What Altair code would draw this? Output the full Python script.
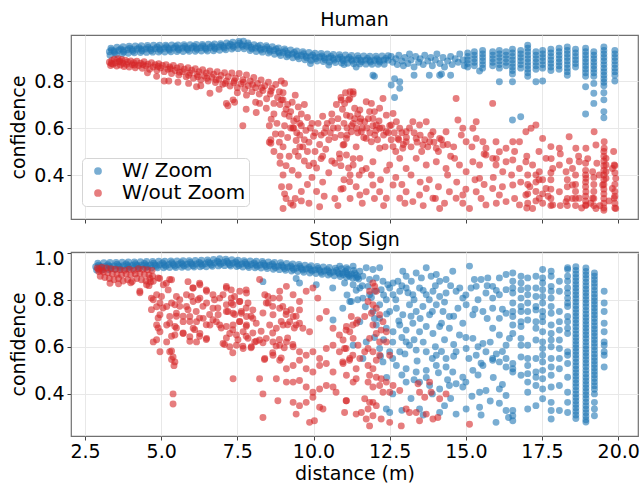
import altair as alt
import pandas as pd

SERIES = ["W/ Zoom", "W/out Zoom"]
COLORS = ["#1f77b4", "#d62728"]
X_TICKS = [2.5, 5.0, 7.5, 10.0, 12.5, 15.0, 17.5, 20.0]
Y_TICKS_TOP = [0.4, 0.6, 0.8]
Y_TICKS_BOTTOM = [0.4, 0.6, 0.8, 1.0]
PANEL_TITLES = ["Human", "Stop Sign"]

# ---------------- Human, W/ Zoom ----------------
human_zoom_band = [
    (3.30,.925),(3.45,.928),(3.60,.930),(3.75,.931),(3.90,.933),(4.05,.934),(4.20,.935),(4.35,.936),(4.50,.936),(4.65,.937),
    (4.80,.938),(4.95,.938),(5.10,.939),(5.25,.939),(5.40,.940),(5.55,.940),(5.70,.940),(5.85,.941),(6.00,.941),(6.15,.942),
    (6.30,.942),(6.45,.942),(6.60,.943),(6.75,.944),(6.90,.945),(7.05,.947),(7.20,.949),(7.35,.951),(7.50,.953),(7.65,.955),
    (7.80,.948),(7.95,.944),(8.10,.940),(8.25,.939),(8.40,.936),(8.55,.934),(8.70,.930),(8.85,.926),(9.00,.922),(9.15,.918),
    (9.30,.915),(9.45,.912),(9.60,.909),(9.75,.906),(9.90,.904),(10.05,.902),(10.20,.901),(10.35,.899),(10.50,.898),(10.65,.896),
    (10.80,.895),(10.95,.894),(11.10,.893),(11.25,.892),(11.40,.890),(11.55,.889),(11.70,.889),(11.85,.888),(12.00,.888),(12.15,.888),
    (12.30,.889),(12.45,.889),
    (3.35,.940),(3.55,.944),(3.75,.946),(3.95,.948),(4.15,.949),(4.35,.950),(4.55,.951),(4.75,.952),(4.95,.952),(5.15,.953),
    (5.35,.954),(5.55,.954),(5.75,.955),(5.95,.955),(6.15,.956),(6.35,.956),(6.55,.957),(6.75,.958),(6.95,.959),(7.15,.962),
    (7.35,.965),(7.55,.968),(7.70,.970),(7.85,.962),(8.05,.955),(8.25,.953),(8.45,.950),(8.65,.946),(8.85,.941),(9.05,.937),
    (9.25,.932),(9.45,.928),(9.65,.925),(9.85,.922),(10.05,.919),(10.25,.917),(10.45,.915),(10.65,.913),(10.85,.912),(11.05,.911),
    (11.25,.909),(11.45,.908),(11.65,.907),(11.85,.906),(12.05,.906),(12.25,.907),(12.45,.908),
    (3.32,.910),(3.52,.913),(3.72,.916),(3.92,.918),(4.12,.920),(4.32,.921),(4.52,.922),(4.72,.923),(4.92,.924),(5.12,.924),
    (5.32,.925),(5.52,.926),(5.72,.926),(5.92,.927),(6.12,.927),(6.32,.928),(6.52,.928),(6.72,.929),(6.92,.931),(7.12,.933),
    (7.32,.936),(7.52,.938),(7.72,.937),(7.92,.930),(8.12,.926),(8.32,.923),(8.52,.919),(8.72,.914),(8.92,.909),(9.12,.903),
    (9.32,.899),(9.52,.895),(9.72,.891),(9.92,.888),(10.12,.885),(10.32,.883),(10.52,.881),(10.72,.879),(10.92,.877),(11.12,.876),
    (11.32,.874),(11.52,.873),(11.72,.872),(11.92,.871),(12.12,.871),(12.32,.871),
    (3.37,.932),(3.67,.937),(3.97,.940),(4.27,.942),(4.57,.943),(4.87,.945),(5.17,.946),(5.47,.947),(5.77,.947),(6.07,.948),
    (6.37,.949),(6.67,.950),(6.97,.952),(7.27,.957),(7.57,.961),(7.87,.954),(8.17,.947),(8.47,.943),(8.77,.937),(9.07,.929),
    (9.37,.922),(9.67,.916),(9.97,.911),(10.27,.907),(10.57,.905),(10.87,.902),(11.17,.900),(11.47,.897),(11.77,.896),(12.07,.895),
    (12.37,.896),
    (3.47,.921),(3.77,.924),(4.07,.927),(4.37,.929),(4.67,.930),(4.97,.931),(5.27,.932),(5.57,.933),(5.87,.934),(6.17,.935),
    (6.47,.935),(6.77,.937),(7.07,.940),(7.37,.944),(7.67,.948),(7.97,.937),(8.27,.932),(8.57,.927),(8.87,.919),(9.17,.911),
    (9.47,.905),(9.77,.899),(10.07,.895),(10.37,.892),(10.67,.889),(10.97,.887),(11.27,.885),(11.57,.882),(11.87,.881),(12.17,.881),
]
human_zoom_scatter = [
    (10.50,.868),(11.95,.825),(12.00,.820),(12.55,.783),(12.66,.810),(12.83,.797),(12.83,.769),(12.66,.730),(13.30,.825),
    (13.80,.825),(14.14,.825),(14.50,.825),(14.20,.830),(15.45,.843),(16.10,.797),(16.53,.797),(16.53,.634),(16.80,.648),
    (17.30,.797),(17.52,.800),(18.93,.776),(18.93,.660),(19.20,.790),(19.20,.748),(19.20,.705),(19.53,.750),(19.53,.720),
    (19.53,.670),(19.53,.644),(19.89,.800),(11.40,.860),(9.90,.875),(11.00,.870),
    (12.55,.905),(12.60,.880),(12.70,.895),(12.75,.870),(12.80,.910),(12.90,.885),(12.95,.865),(13.00,.900),(13.10,.875),
    (13.15,.915),(13.20,.890),(13.30,.860),(13.35,.905),(13.45,.880),(13.50,.895),(13.60,.870),(13.65,.910),(13.75,.885),
    (13.85,.900),(13.90,.865),(14.00,.890),(14.05,.915),(14.15,.875),(14.25,.900),(14.30,.860),(14.40,.885),(14.50,.905),
    (14.55,.870),(14.65,.895),(14.75,.880),(14.80,.915),(14.90,.890),(14.95,.865),
]
human_zoom_columns = [
    (15.06, [.920,.905,.890,.875,.860]),
    (15.28, [.925,.910,.895,.880,.865]),
    (15.55, [.930,.915,.900,.885,.870,.855]),
    (15.88, [.925,.910,.895,.880,.865]),
    (16.10, [.930,.915,.900,.885,.870,.855]),
    (16.32, [.925,.910,.895,.880,.865]),
    (16.53, [.935,.920,.905,.890,.875,.860,.845,.830]),
    (16.80, [.930,.915,.900,.885,.870,.855]),
    (17.03, [.953,.940,.925,.910,.895,.880,.865,.850,.835,.820]),
    (17.30, [.925,.910,.895,.880,.865,.850]),
    (17.52, [.930,.915,.900,.885,.870,.855]),
    (17.79, [.935,.920,.905,.890,.875,.860,.845]),
    (18.06, [.940,.925,.910,.895,.880,.865,.850]),
    (18.33, [.945,.930,.915,.900,.885,.870,.855,.840,.825]),
    (18.60, [.935,.920,.905,.890,.875,.860]),
    (18.93, [.940,.925,.910,.895,.880,.865,.850,.835,.820]),
    (19.20, [.925,.910,.895,.880,.865,.850,.835,.820]),
    (19.53, [.945,.930,.915,.900,.885,.870,.855,.840,.825,.810,.795,.780]),
    (19.89, [.930,.915,.900,.885,.870,.855,.840,.825]),
]

# ---------------- Human, W/out Zoom ----------------
human_nozoom_band = [
    (3.30,.880),(3.34,.866),(3.38,.888),(3.42,.872),(3.46,.893),(3.50,.878),(3.54,.864),(3.58,.895),(3.62,.882),(3.66,.868),
    (3.70,.892),(3.74,.876),(3.78,.862),(3.82,.889),(3.86,.871),(3.90,.881),(3.95,.860),(4.00,.886),(4.05,.870),(4.10,.878),
    (4.15,.857),(4.20,.884),(4.26,.866),(4.32,.876),(4.38,.854),(4.44,.882),(4.50,.864),(4.56,.872),(4.62,.850),(4.68,.878),
    (4.74,.860),(4.80,.870),(4.86,.846),(4.92,.874),(4.98,.856),(5.04,.866),(5.10,.840),(5.16,.870),(5.22,.850),(5.28,.860),
    (5.34,.832),(5.40,.866),(5.46,.845),(5.52,.856),(5.58,.826),(5.64,.862),(5.70,.840),(5.76,.850),(5.82,.818),(5.88,.857),
    (5.94,.834),(6.00,.846),(6.06,.812),(6.12,.852),(6.18,.828),(6.24,.840),(6.30,.805),(6.36,.848),(6.42,.822),(6.48,.834),
    (6.54,.800),(6.60,.843),(6.66,.816),(6.72,.829),(6.78,.794),(6.84,.840),(6.90,.808),(6.96,.824),(7.02,.786),(7.08,.836),
    (7.14,.800),(7.20,.818),(7.26,.779),(7.32,.834),(7.38,.793),(7.44,.812),(7.50,.772),(7.56,.832),(7.62,.788),(7.68,.806),
    (7.74,.766),(7.80,.826),(7.86,.780),(7.92,.800),(7.98,.755),(8.04,.815),(8.10,.772),(8.16,.790),(8.22,.745),(8.28,.805),
    (8.34,.760),(8.40,.780),(8.46,.725),(8.52,.795),(8.58,.745),(8.64,.770),(8.70,.705),(8.76,.785),(8.82,.730),(8.88,.755),
    (3.36,.875),(3.64,.885),(4.12,.868),(4.40,.870),(4.90,.862),(5.30,.852),(5.60,.838),(5.90,.825),(6.20,.818),(6.50,.812),
    (6.80,.805),(7.10,.790),(7.40,.800),(7.70,.795),(8.00,.785),(8.30,.772),(8.60,.758),(9.00,.750),(9.05,.790),(8.95,.720),
]
human_nozoom_scatter = [
    (4.55,.835),(4.85,.820),(5.10,.800),(5.25,.800),(5.55,.795),(5.90,.790),(6.16,.776),(6.60,.748),(6.30,.780),(6.90,.765),
    (7.14,.705),(7.36,.720),(7.19,.695),(7.41,.710),(7.68,.610),(7.79,.680),(8.12,.666),(8.23,.705),(8.45,.684),(8.61,.638),
    (7.50,.750),(7.80,.740),(8.10,.710),(8.70,.660),(8.80,.620),(8.90,.700),(9.00,.720),(9.10,.680),(9.20,.650),(9.30,.710),
    (9.40,.740),(9.50,.690),(8.94,.800),(9.32,.600),(9.43,.547),(8.94,.575),(8.88,.540),(8.55,.540),
    (8.75,.575),(8.60,.535),(8.55,.610),(9.05,.610),(9.15,.560),(9.25,.600),(9.35,.630),(9.45,.580),(9.55,.620),(9.60,.660),
    (9.70,.700),(9.80,.645),(9.90,.600),(10.00,.565),(9.70,.550),(9.55,.520),(9.40,.500),(9.20,.480),(9.00,.520),(8.90,.480),
    (8.70,.500),(8.60,.550),(9.10,.440),(9.30,.420),(9.50,.400),(9.70,.460),(9.85,.440),(10.05,.500),(10.20,.530),(10.35,.580),
    (10.45,.620),(10.60,.660),(10.75,.700),(10.90,.730),(11.05,.750),(11.20,.755),(11.30,.745),(11.15,.720),(10.95,.680),(10.80,.640),
    (10.65,.600),(10.50,.550),(10.40,.510),(10.25,.470),(10.10,.430),(9.95,.390),(9.80,.360),(9.60,.330),(9.40,.300),(9.20,.350),
    (9.00,.400),(9.00,.258),(9.10,.300),(9.33,.272),(10.20,.265),(9.85,.280),(10.10,.330),(10.30,.370),(10.50,.410),(10.70,.450),
    (10.85,.490),(11.00,.530),(11.10,.570),(11.25,.610),(11.35,.640),(11.45,.580),(11.40,.520),(11.30,.470),(11.15,.430),(11.00,.380),
    (10.90,.340),(10.70,.300),(11.20,.300),(11.40,.350),(11.50,.400),
    (9.05,.660),(9.15,.700),(9.25,.670),(9.35,.600),(9.45,.640),(9.55,.570),(9.60,.610),(9.65,.520),(9.75,.590),(9.85,.540),
    (9.95,.620),(10.05,.580),(10.15,.620),(10.25,.570),(10.30,.650),(10.40,.600),(10.55,.580),(10.60,.630),(10.70,.560),(10.80,.600),
    (10.90,.570),(11.00,.620),(11.10,.600),(11.20,.650),(11.30,.620),(11.45,.660),(11.55,.640),(11.60,.600),(11.65,.560),(11.75,.600),
    (11.80,.640),(11.85,.580),(11.95,.610),(12.00,.670),(12.05,.590),(12.10,.550),(12.15,.630),(12.25,.600),(12.30,.570),(12.35,.520),
    (12.45,.580),(12.50,.610),(12.55,.550),(12.65,.580),(12.70,.500),(12.80,.550),(12.90,.580),(12.95,.530),(13.05,.560),(13.15,.600),
    (13.20,.520),(13.30,.580),(13.40,.540),(13.50,.570),(13.55,.500),(13.65,.550),(13.75,.520),(13.85,.570),(13.95,.540),(14.10,.500),
    (14.20,.550),(14.40,.530),(14.50,.480),(14.60,.520),
    (9.50,.480),(9.80,.500),(10.00,.450),(10.30,.480),(10.60,.460),(10.90,.440),(11.20,.400),(11.60,.420),(11.90,.400),(12.20,.380),
    (12.40,.420),(12.70,.390),(12.90,.360),(13.20,.400),(13.50,.370),(13.80,.380),(14.10,.350),(14.40,.400),(14.70,.370),(15.00,.340),
    (15.30,.380),(15.60,.360),(15.90,.390),(16.20,.350),(16.50,.400),(16.80,.370),(17.10,.350),(17.40,.380),
    (8.90,.450),(8.95,.350),(9.05,.320),(9.25,.280),(9.60,.290),(10.35,.310),(10.80,.270),(11.60,.280),(12.00,.300),(12.30,.270),
    (13.00,.280),(13.60,.270),(14.00,.300),(14.30,.280),(14.90,.280),(15.50,.300),(16.00,.280),(16.60,.300),(17.00,.260),(17.70,.310),
    (18.10,.270),(18.50,.300),(18.80,.260),(19.10,.280),(19.40,.270),(19.70,.290),
    (16.60,.500),(17.00,.480),(17.40,.500),(17.80,.470),(18.10,.490),(18.40,.460),(18.70,.480),(19.00,.470),(19.30,.450),(19.85,.500),
    (15.20,.520),(15.60,.490),(16.00,.470),
    (11.30,.755),(11.19,.726),(11.02,.705),(10.91,.719),(11.08,.655),(11.35,.684),(11.52,.677),(11.73,.712),(11.90,.705),(11.84,.670),
    (11.95,.641),(12.17,.684),(12.28,.726),(12.39,.655),(12.61,.662),(12.72,.627),(12.55,.613),(12.39,.584),(12.17,.599),(12.01,.570),
    (11.90,.542),(11.73,.556),(11.57,.584),(11.41,.599),(11.24,.584),(11.08,.556),(10.97,.528),(11.68,.627),(11.52,.627),(12.06,.613),
    (12.83,.599),(13.04,.584),(13.26,.627),(13.48,.613),(13.70,.627),(13.92,.584),(14.14,.556),(14.35,.584),(13.04,.542),(12.77,.556),
    (12.61,.521),(12.93,.514),(13.37,.556),(13.59,.528),(13.81,.542),(14.03,.514),(14.25,.528),(14.68,.726),(14.74,.634),(14.90,.599),
    (14.85,.570),(15.01,.542),(15.23,.599),(15.34,.627),(15.56,.542),(15.34,.556),(15.66,.514),(15.88,.705),(15.99,.542),(16.10,.499),
    (16.32,.514),(16.54,.542),(16.76,.542),(16.97,.584),(17.14,.599),(17.30,.613),(17.52,.556),(17.79,.521),(18.07,.514),(18.39,.563),
    (18.61,.514),(18.94,.514),(19.21,.584),(19.27,.528),(19.54,.542),(19.54,.514),(19.87,.443),
    (10.86,.471),(11.08,.485),(11.30,.443),(11.52,.471),(11.73,.428),(11.95,.457),(12.17,.514),(12.50,.443),(12.83,.471),(13.04,.428),
    (13.37,.471),(13.70,.443),(14.03,.457),(14.35,.428),(14.63,.471),(14.79,.443),(15.01,.414),(15.23,.457),(15.45,.443),(15.66,.485),
    (15.88,.471),(15.99,.443),(16.21,.414),(16.32,.457),(16.54,.464),(16.76,.428),(16.97,.457),(17.19,.443),(17.41,.414),(17.63,.471),
    (17.85,.428),(18.07,.443),(18.29,.414),(18.50,.428),(18.72,.457),(18.94,.386),(19.16,.414),(19.38,.400),(19.60,.471),(19.60,.443),
    (19.60,.414),(19.60,.386),(19.81,.428),(19.92,.386),
    (10.97,.343),(11.19,.372),(11.52,.315),(11.73,.329),(11.95,.358),(12.17,.329),(12.39,.301),(12.61,.358),(12.83,.301),(13.04,.329),
    (13.26,.287),(13.48,.315),(13.70,.343),(13.92,.301),(14.14,.258),(14.46,.329),(14.68,.301),(14.90,.315),(15.12,.258),(15.34,.329),
    (15.45,.386),(15.66,.273),(15.88,.343),(16.10,.315),(16.32,.287),(16.54,.358),(16.76,.273),(16.97,.315),(17.19,.258),(17.41,.301),
    (17.63,.343),(17.85,.273),(18.07,.329),(18.29,.287),(18.50,.358),(18.72,.301),(18.94,.329),(18.94,.273),(19.16,.301),(19.27,.258),
    (19.49,.358),(19.81,.343),(19.87,.301),(19.92,.258),
]
human_nozoom_columns = [
    (17.03, [.400,.360,.320,.280]),
    (17.30, [.400,.370,.330,.290]),
    (17.52, [.380,.320,.280]),
    (17.79, [.410,.380,.340,.300,.270]),
    (18.33, [.380,.350,.300,.270]),
    (18.60, [.400,.360,.330,.300,.270]),
    (18.93, [.450,.420,.400,.370,.350,.310,.290,.270]),
    (19.20, [.390,.360,.330,.300,.270]),
    (19.53, [.500,.480,.460,.440,.420,.400,.380,.360,.340,.320,.300,.280,.260,.250]),
    (19.89, [.440,.410,.360,.330,.310,.280,.260]),
]

# ---------------- Stop Sign, W/ Zoom ----------------
stop_zoom_band = [
    (2.85,.940),(3.00,.941),(3.15,.942),(3.30,.943),(3.45,.944),(3.60,.945),(3.75,.945),(3.90,.946),(4.05,.946),(4.20,.947),
    (4.35,.947),(4.50,.948),(4.65,.948),(4.80,.948),(4.95,.949),(5.10,.949),(5.25,.950),(5.40,.950),(5.55,.950),(5.70,.951),
    (5.85,.951),(6.00,.952),(6.15,.952),(6.30,.953),(6.45,.953),(6.60,.955),(6.75,.956),(6.90,.958),(7.05,.958),(7.20,.956),
    (7.35,.955),(7.50,.953),(7.65,.952),(7.80,.951),(7.95,.950),(8.10,.949),(8.25,.948),(8.40,.948),(8.55,.946),(8.70,.944),
    (8.85,.942),(9.00,.940),(9.15,.938),(9.30,.936),(9.45,.935),(9.60,.933),(9.75,.931),(9.90,.929),(10.05,.927),(10.20,.925),
    (10.35,.922),(10.50,.920),(10.65,.918),(10.80,.916),(10.95,.915),(11.10,.912),(11.25,.909),(11.40,.905),
    (2.92,.955),(3.12,.957),(3.32,.958),(3.52,.959),(3.72,.960),(3.92,.961),(4.12,.961),(4.32,.962),(4.52,.963),(4.72,.963),
    (4.92,.964),(5.12,.964),(5.32,.965),(5.52,.965),(5.72,.966),(5.92,.966),(6.12,.967),(6.32,.968),(6.52,.969),(6.72,.971),
    (6.92,.974),(7.12,.972),(7.32,.970),(7.52,.968),(7.72,.966),(7.92,.965),(8.12,.964),(8.32,.963),(8.52,.961),(8.72,.959),
    (8.92,.957),(9.12,.954),(9.32,.952),(9.52,.950),(9.72,.947),(9.92,.945),(10.12,.942),(10.32,.939),(10.52,.937),(10.72,.934),
    (10.92,.932),(11.12,.929),(11.32,.925),
    (2.88,.926),(3.08,.928),(3.28,.929),(3.48,.930),(3.68,.931),(3.88,.932),(4.08,.933),(4.28,.934),(4.48,.935),(4.68,.935),
    (4.88,.936),(5.08,.936),(5.28,.937),(5.48,.937),(5.68,.938),(5.88,.938),(6.08,.939),(6.28,.940),(6.48,.940),(6.68,.942),
    (6.88,.944),(7.08,.945),(7.28,.943),(7.48,.941),(7.68,.939),(7.88,.937),(8.08,.936),(8.28,.935),(8.48,.933),(8.68,.930),
    (8.88,.928),(9.08,.925),(9.28,.922),(9.48,.920),(9.68,.917),(9.88,.914),(10.08,.912),(10.28,.908),(10.48,.905),(10.68,.902),
    (10.88,.899),(11.08,.896),(11.28,.892),(11.48,.888),
    (2.95,.947),(3.25,.949),(3.55,.951),(3.85,.952),(4.15,.953),(4.45,.954),(4.75,.955),(5.05,.956),(5.35,.957),(5.65,.957),
    (5.95,.958),(6.25,.959),(6.55,.961),(6.85,.964),(7.15,.964),(7.45,.961),(7.75,.958),(8.05,.956),(8.35,.955),(8.65,.952),
    (8.95,.948),(9.25,.944),(9.55,.941),(9.85,.937),(10.15,.933),(10.45,.928),(10.75,.924),(11.05,.920),(11.35,.914),
    (3.05,.934),(3.35,.936),(3.65,.938),(3.95,.939),(4.25,.940),(4.55,.941),(4.85,.942),(5.15,.942),(5.45,.943),(5.75,.944),
    (6.05,.945),(6.35,.946),(6.65,.948),(6.95,.951),(7.25,.949),(7.55,.946),(7.85,.944),(8.15,.942),(8.45,.941),(8.75,.937),
    (9.05,.933),(9.35,.929),(9.65,.926),(9.95,.922),(10.25,.917),(10.55,.913),(10.85,.909),(11.15,.905),(11.45,.898),
]
stop_zoom_scatter = [
    (9.54,.871),(10.09,.864),(10.63,.850),(10.96,.764),(10.64,.714),(11.24,.793),(11.45,.800),(8.34,.877),(9.43,.890),
    (10.86,.943),(11.08,.936),(11.30,.943),(11.52,.921),(11.73,.936),(11.95,.929),(12.17,.936),(10.97,.907),(11.19,.900),(11.41,.893),
    (11.62,.900),(11.84,.886),(12.06,.893),(12.28,.879),(11.02,.871),(11.30,.864),(11.52,.850),(11.79,.857),(12.01,.836),(12.22,.843),
    (12.44,.864),(12.61,.871),(12.77,.879),(12.93,.921),(13.04,.900),(13.21,.879),(13.37,.914),(13.54,.893),(13.70,.936),(13.86,.900),
    (14.03,.907),(14.14,.879),(14.35,.886),(14.57,.921),(15.12,.943),(15.28,.886),(15.50,.886),(15.72,.893),(15.88,.857),(16.10,.893),
    (16.32,.907),
    (11.19,.793),(11.62,.807),(11.84,.821),(12.17,.779),(12.39,.800),(12.61,.821),(12.83,.836),(13.04,.850),(13.26,.821),(13.48,.850),
    (13.70,.821),(13.92,.836),(14.14,.814),(14.35,.829),(14.68,.836),(14.90,.807),(15.17,.850),(15.34,.857),(15.66,.829),(15.88,.807),
    (16.10,.821),(16.32,.843),
    (11.95,.750),(12.17,.721),(12.50,.750),(12.72,.764),(12.93,.736),(13.15,.779),(13.37,.750),(13.59,.771),(13.81,.736),(14.03,.779),
    (14.25,.750),(14.46,.729),(14.74,.764),(15.01,.779),(15.23,.736),(15.56,.750),(15.88,.764),(16.10,.721),(16.32,.743),
    (11.52,.707),(12.06,.693),(12.39,.679),(12.61,.664),(12.83,.693),(13.04,.671),(13.26,.700),(13.48,.664),(13.70,.686),(13.92,.657),
    (14.14,.686),(14.46,.679),(14.79,.650),(15.23,.636),(15.56,.614),(15.88,.679),(16.10,.650),(16.32,.607),(16.43,.636),
    (11.30,.607),(11.73,.621),(12.17,.593),(12.50,.579),(12.83,.579),(13.04,.621),(13.15,.607),(13.37,.586),(13.70,.579),(14.03,.564),
    (14.35,.550),(14.68,.579),(15.01,.593),(15.34,.564),(15.66,.579),(15.88,.550),(16.10,.536),(16.32,.550),
    (11.62,.550),(12.28,.536),(12.72,.521),(13.04,.507),(13.37,.493),(13.70,.500),(14.03,.521),(14.35,.514),(14.57,.493),(14.90,.471),
    (15.23,.500),(15.56,.521),(15.88,.543),(16.32,.514),
    (13.04,.450),(13.48,.450),(13.81,.436),(14.14,.421),(14.46,.436),(14.68,.443),(14.90,.429),(15.45,.407),(15.66,.414),(16.10,.421),
    (16.32,.393),
    (12.39,.336),(12.50,.321),(13.48,.336),(14.14,.321),(14.68,.314),(15.01,.336),(15.45,.343),(15.99,.279),(16.32,.329),
    (11.10,.820),(11.40,.840),(11.60,.860),(11.90,.810),(12.30,.820),(12.50,.850),(12.70,.800),(12.90,.860),(13.10,.830),(13.30,.800),
    (13.60,.840),(13.80,.800),(14.00,.860),(14.30,.790),(14.50,.860),(14.80,.850),(15.00,.820),(15.40,.800),(15.70,.860),(16.00,.840),
    (11.70,.770),(12.00,.720),(12.40,.740),(12.80,.710),(13.20,.730),(13.50,.720),(13.90,.750),(14.20,.700),(14.60,.730),(14.90,.700),
    (15.30,.760),(15.70,.720),(16.20,.760),
    (12.00,.640),(12.30,.630),(12.60,.620),(12.90,.640),(13.30,.630),(13.60,.620),(14.00,.600),(14.30,.630),(14.60,.610),(15.00,.640),
    (15.40,.600),(15.80,.620),(16.20,.580),
    (12.20,.560),(12.60,.550),(13.00,.570),(13.40,.540),(13.90,.550),(14.20,.580),(14.60,.560),(15.10,.550),(15.50,.530),(16.00,.570),
    (12.40,.470),(12.90,.480),(13.30,.460),(13.70,.470),(14.10,.490),(14.40,.460),(15.00,.450),(15.40,.480),(15.90,.470),(16.20,.440),
    (12.60,.400),(13.20,.380),(13.90,.400),(14.50,.380),(15.20,.390),(15.80,.370),(16.10,.360),(12.90,.330),(13.60,.310),(14.30,.350),
    (15.50,.310),(16.40,.300),
]
stop_zoom_columns = [
    (16.54, [.914,.879,.850,.829,.786,.750,.729,.693,.657,.529,.507,.493,.329,.307,.286]),
    (16.81, [.900,.871,.843,.807,.771,.750,.707,.686,.636,.607,.557,.479]),
    (17.03, [.893,.850,.821,.786,.750,.714,.607,.550,.521,.486,.450,.407,.336]),
    (17.30, [.900,.850,.814,.771,.757,.707,.679,.629,.550,.493,.471,.436,.350]),
    (17.52, [.929,.893,.871,.843,.814,.786,.750,.729,.707,.664,.621,.593,.564,.536,.500,.464,.421,.379]),
    (17.80, [.921,.900,.857,.836,.807,.771,.743,.693,.657,.629,.600,.550,.514,.479,.429,.364,.329,.293]),
    (18.07, [.879,.836,.750,.707,.671,.629,.593,.550,.507,.436,.329]),
    (18.34, [.936,.929,.900,.879,.850,.829,.807,.786,.771,.729,.707,.679,.657,.579,.564,.529,.471,.407,.364,.321]),
    (18.61, [.940,.925,.910,.895,.880,.865,.850,.835,.820,.805,.790,.775,.760,.745,.730,.715,.700,.685,.670,.655,.640,.625,
             .610,.595,.580,.565,.550,.535,.520,.505,.490,.475,.460,.445,.430,.415,.400,.385,.370,.355,.340,.325,.310,.295]),
    (18.94, [.935,.920,.905,.890,.875,.860,.845,.830,.815,.800,.785,.770,.755,.740,.725,.710,.695,.680,.665,.650,.635,.620,
             .605,.590,.575,.560,.545,.530,.515,.500,.485,.470,.455,.440,.425,.410,.395,.380,.365,.350,.335,.320,.305,.290,.280]),
    (19.22, [.914,.900,.885,.870,.855,.840,.825,.810,.795,.780,.765,.750,.735,.720,.705,.690,.675,.660,.645,.630,.615,.600,
             .585,.570,.555,.540,.525,.510,.495,.480,.465,.450,.435,.420,.400,.364,.336,.307]),
    (19.54, [.836,.786,.750,.700,.664,.621,.607,.579,.564,.514]),
]

# ---------------- Stop Sign, W/out Zoom ----------------
stop_nozoom_band = [
    (2.90,.935),(3.05,.938),(3.20,.935),(3.35,.932),(3.50,.930),(3.65,.928),(3.80,.925),(3.95,.930),(4.10,.925),(4.25,.932),
    (4.40,.930),(4.55,.928),(4.70,.925),
    (2.95,.920),(3.10,.918),(3.25,.915),(3.40,.910),(3.55,.908),(3.70,.905),(3.85,.910),(4.00,.905),(4.15,.910),(4.30,.912),
    (4.45,.908),(4.60,.905),(4.72,.900),
    (3.00,.900),(3.15,.895),(3.30,.890),(3.45,.885),(3.60,.890),(3.75,.880),(3.90,.885),(4.05,.878),(4.20,.890),(4.35,.885),
    (4.50,.880),(4.65,.875),
    (3.32,.870),(3.60,.868),(4.00,.872),(2.95,.930),(3.05,.925),(4.30,.830),(4.60,.860),
]
stop_nozoom_scatter = [
    (4.30,.836),(4.52,.864),(4.74,.879),(4.90,.893),(5.07,.864),(5.28,.886),(4.85,.821),(4.68,.807),(4.96,.786),(5.18,.771),
    (5.45,.779),(5.61,.800),(5.83,.821),(6.05,.850),(6.27,.864),(6.49,.836),(6.70,.821),(5.83,.771),(6.05,.793),(6.27,.807),
    (6.49,.786),(6.70,.764),(5.50,.743),(5.28,.729),(4.96,.736),(4.85,.693),(4.96,.664),(4.74,.621),(5.18,.693),(5.45,.686),
    (5.72,.707),(5.94,.729),(6.16,.707),(6.38,.721),(6.60,.693),(6.81,.707),(6.05,.679),(6.27,.657),(6.49,.636),(6.16,.621),
    (5.94,.643),(5.72,.657),(5.45,.650),(5.18,.621),(4.96,.579),(5.28,.579),(5.39,.557),(5.45,.536),(5.42,.520),(5.39,.400),
    (5.39,.357),(7.14,.850),(7.03,.821),(7.30,.807),(7.58,.836),(7.80,.829),(7.14,.779),(7.36,.779),(7.58,.793),(7.85,.786),
    (8.01,.757),(7.14,.750),(7.36,.743),(7.63,.743),(7.80,.729),(6.87,.736),(6.92,.693),(7.14,.686),(7.36,.693),(7.58,.707),
    (7.80,.693),(8.01,.721),(7.25,.657),(7.47,.650),(7.69,.664),(7.85,.636),(8.07,.621),(7.03,.614),(7.25,.600),(7.47,.607),
    (7.69,.593),(7.96,.600),(7.36,.464),(8.23,.886),(8.40,.821),(8.51,.786),(8.67,.807),(8.89,.836),(9.11,.857),(9.33,.821),
    (9.54,.793),(9.76,.836),(9.98,.850),(10.14,.807),(8.89,.764),(9.11,.750),(9.33,.729),(9.54,.757),(8.67,.736),(8.56,.693),
    (8.78,.679),(9.00,.693),(9.22,.707),(9.43,.693),(9.65,.679),(9.87,.664),(10.20,.721),(10.42,.750),(10.64,.679),(10.85,.650),
    (11.07,.671),(11.29,.693),(11.45,.714),(8.23,.629),(8.45,.636),(8.67,.621),(8.89,.607),(9.11,.621),(9.33,.600),(9.54,.579),
    (9.76,.564),(9.98,.579),(10.20,.550),(10.42,.593),(10.64,.607),(10.85,.579),(11.07,.593),(11.29,.564),(8.40,.550),(8.67,.564),
    (8.89,.543),(9.11,.507),(9.33,.521),(9.54,.543),(9.76,.507),(9.98,.493),(10.20,.521),(10.42,.529),(10.64,.493),(10.96,.536),
    (11.18,.543),(11.40,.507),(8.23,.464),(8.78,.464),(9.11,.450),(9.33,.450),(9.54,.457),(9.76,.429),(9.98,.407),(10.20,.421),
    (10.42,.436),(10.64,.429),(10.74,.407),(11.07,.371),(11.40,.464),(11.40,.314),(9.98,.386),(9.76,.364),(9.54,.350),(9.33,.364),
    (9.43,.314),(9.87,.279),(10.03,.286),(10.20,.343),(10.31,.336),(8.34,.300),(8.83,.371),(8.34,.400),(6.92,.807),
    (4.63,.890),(4.95,.890),(5.17,.870),(5.34,.885),(5.23,.842),(5.01,.814),(4.74,.800),(4.68,.758),(4.85,.770),(5.06,.765),
    (5.34,.786),(5.50,.814),(5.61,.772),(5.50,.730),(5.28,.700),(5.50,.680),(4.90,.680),(4.85,.630),(5.34,.645),(4.90,.723),
    (5.88,.877),(6.04,.850),(6.26,.870),(6.48,.842),(5.99,.814),(6.21,.800),(6.37,.772),(6.15,.750),(5.88,.758),(5.72,.730),
    (5.94,.708),(6.26,.722),(6.59,.737),(6.48,.694),(6.10,.673),(6.26,.645),(6.48,.631),(5.94,.624),(5.72,.659),(6.75,.800),
    (6.86,.765),(6.70,.715),(6.97,.680),(7.14,.856),(7.30,.842),(7.41,.814),(7.57,.793),(7.79,.842),(7.30,.786),(7.19,.750),
    (7.41,.737),(7.63,.750),(7.79,.765),(7.95,.730),(7.57,.708),(7.79,.687),(7.35,.673),(7.14,.638),(7.52,.630),(7.79,.645),
    (8.01,.659),(7.68,.603),(7.95,.596),(8.12,.624),(7.35,.575),(7.08,.610),(8.12,.700),(8.34,.744),(8.45,.786),(8.50,.814),
    (8.66,.772),(8.88,.807),(8.99,.772),(9.10,.737),(9.26,.758),(9.43,.730),(8.94,.708),(9.15,.694),(9.37,.680),(9.54,.700),
    (8.66,.659),(8.88,.631),(9.15,.638),(8.77,.603),(9.04,.596),(9.32,.610),(8.66,.575),(8.94,.553),(8.39,.546),(8.34,.617),
    (8.28,.666),(5.34,.582),(5.34,.546),
    (11.95,.871),(12.01,.857),(11.84,.836),(12.06,.836),(11.79,.793),(11.95,.779),(12.06,.764),(11.90,.743),(11.68,.729),(12.17,.736),
    (12.28,.707),(11.95,.693),(12.22,.671),(12.39,.664),(12.06,.657),(11.84,.636),(12.17,.621),(12.39,.621),(11.79,.593),(11.68,.579),
    (11.95,.579),(12.17,.564),(12.50,.564),(11.52,.550),(12.06,.543),(11.79,.521),(11.95,.507),(11.84,.479),(12.06,.471),(12.22,.464),
    (11.79,.450),(11.95,.429),(12.17,.436),(12.39,.450),(12.61,.436),(12.83,.414),(12.50,.407),(12.28,.407),(11.68,.379),(11.84,.364),
    (11.95,.364),(12.06,.350),(11.79,.336),(11.57,.321),(11.95,.307),(12.22,.293),(11.73,.293),(11.84,.264),(12.50,.279),(12.88,.264),
    (13.04,.336),(13.15,.321),(13.37,.321),(13.48,.286),(13.70,.314),(13.92,.293),(14.08,.300),(13.86,.407),(14.14,.379),(14.35,.400),
    (13.48,.407),(11.08,.371),(11.02,.321),(11.30,.450),(11.08,.479),(10.97,.529),(11.19,.550),(11.02,.593),(11.30,.636),(11.19,.664),
    (11.08,.686),(11.24,.729),(11.41,.700),(10.97,.629),(11.46,.607),(15.12,.271),(13.43,.443),(13.81,.450),(13.65,.386),
]


def expand(columns):
    return [(x, y) for x, ys in columns for y in ys]


def frame(pairs, series):
    return pd.DataFrame({
        "distance": [p[0] for p in pairs],
        "confidence": [p[1] for p in pairs],
        "series": series,
    })


human_df = pd.concat([
    frame(human_zoom_band + human_zoom_scatter + expand(human_zoom_columns), SERIES[0]),
    frame(human_nozoom_band + human_nozoom_scatter + expand(human_nozoom_columns), SERIES[1]),
], ignore_index=True)

stop_df = pd.concat([
    frame(stop_zoom_band + stop_zoom_scatter + expand(stop_zoom_columns), SERIES[0]),
    frame(stop_nozoom_band + stop_nozoom_scatter, SERIES[1]),
], ignore_index=True)

FONT = "DejaVu Sans"
x_scale = alt.Scale(domain=[2.04, 20.65], nice=False, zero=False)
color_scale = alt.Scale(domain=SERIES, range=COLORS)


def panel(df, title, title_offset, y_domain, y_ticks, show_x_labels, legend, y_flush):
    x_axis = alt.Axis(values=X_TICKS, format=".1f", labels=show_x_labels, labelFlush=False,
                      labelPadding=2, titlePadding=3,
                      title="distance (m)" if show_x_labels else None)
    y_axis = alt.Axis(values=y_ticks, format=".1f", title="confidence",
                      labelPadding=3, titlePadding=5,
                      labelFlush=y_flush, labelFlushOffset=3)
    return alt.Chart(df, title=alt.Title(title, offset=title_offset)).mark_circle(size=48, opacity=0.6).encode(
        x=alt.X("distance:Q", scale=x_scale, axis=x_axis),
        y=alt.Y("confidence:Q", scale=alt.Scale(domain=y_domain, nice=False, zero=False), axis=y_axis),
        color=alt.Color("series:N", scale=color_scale, legend=legend),
    ).properties(width=567, height=184)


legend = alt.Legend(
    title=None, orient="none", legendX=11, legendY=123,
    labelFontSize=20, labelFont=FONT, labelColor="black",
    symbolType="circle", symbolSize=60, symbolOpacity=0.6, symbolStrokeWidth=0, symbolOffset=3,
    strokeColor="#d5d5d5", fillColor="white", cornerRadius=4, padding=3,
    rowPadding=2, labelOffset=14,
)

top = panel(human_df, PANEL_TITLES[0], 5, [0.213, 0.996], Y_TICKS_TOP, False, legend, False)
bottom = panel(stop_df, PANEL_TITLES[1], 0, [0.221, 1.003], Y_TICKS_BOTTOM, True, None, 3)

chart = alt.vconcat(top, bottom, spacing=5).resolve_legend(color="independent").configure(
    font=FONT, padding={"left": 9, "top": 10, "right": 2, "bottom": 0}
).configure_view(
    stroke="#707070", strokeWidth=1.2
).configure_title(
    fontSize=19, fontWeight="normal", color="black", font=FONT
).configure_axis(
    labelFontSize=19, labelFont=FONT, labelColor="black",
    titleFontSize=19, titleFont=FONT, titleFontWeight="normal", titleColor="black",
    tickColor="#444444", tickSize=4, tickWidth=1, domain=False,
    gridColor="#e8e8e8", gridWidth=1,
)

chart.save("out.html", embed_options={"renderer": "svg", "actions": False})
